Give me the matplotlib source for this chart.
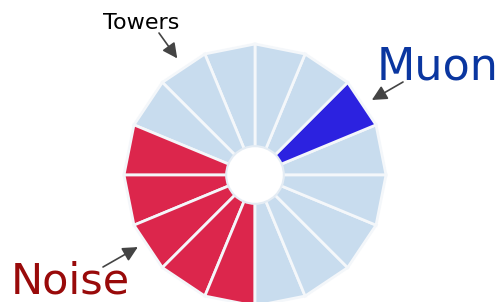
import numpy as np
import matplotlib
matplotlib.use("Agg")
import matplotlib.pyplot as plt
from matplotlib.patches import Circle

# Data
n_towers = 16
tower_values = [1] * n_towers
tower_types = ["Tower", "Muon", "Tower", "Tower", "Tower", "Tower", "Tower",
               "Noise", "Noise", "Noise", "Noise", "Noise",
               "Tower", "Tower", "Tower", "Tower"]
type_colors = {"Tower": "#c8dcee", "Muon": "#2c22e0", "Noise": "#dc264c"}
hole_radius = 0.22

fig = plt.figure(figsize=(4.99, 3.02), dpi=100)
W, H = 499, 302
cx, cy, R = 255, 175, 131
ax = fig.add_axes([(cx - R) / W, (H - cy - R) / H, 2 * R / W, 2 * R / H],
                  projection="polar")

width = 2 * np.pi / n_towers
for i, (v, t) in enumerate(zip(tower_values, tower_types)):
    t0, t1 = i * width, (i + 1) * width
    ax.fill([t0, t1, t0], [v, v, 0], facecolor=type_colors[t],
            edgecolor="#f4f7fa", linewidth=2, clip_on=False)

ax.set_ylim(0, max(tower_values))
ax.set_axis_off()

hole = Circle((0.5, 0.5), hole_radius / 2, transform=ax.transAxes,
              facecolor="white", edgecolor="#e4ecf4", linewidth=1.5, zorder=5)
ax.add_patch(hole)

# Labels
fig.text(103 / W, 1 - 29 / H, "Towers", fontsize=16, color="black",
         ha="left", va="baseline")
fig.text(377 / W, 1 - 80 / H, "Muon", fontsize=32, color="#0a36a0",
         ha="left", va="baseline")
fig.text(11 / W, 1 - 293 / H, "Noise", fontsize=31, color="#990a0a",
         ha="left", va="baseline")

arrow = dict(arrowstyle="-|>,head_length=0.6,head_width=0.3", color="#444444",
             lw=1.2, mutation_scale=15, shrinkA=0, shrinkB=0)
ax.annotate("", xy=(np.deg2rad(123.7), 1.07), xycoords="data",
            xytext=(159, H - 33), textcoords="figure pixels",
            arrowprops=arrow, annotation_clip=False)
ax.annotate("", xy=(np.deg2rad(32.7), 1.06), xycoords="data",
            xytext=(403, H - 82), textcoords="figure pixels",
            arrowprops=arrow, annotation_clip=False)
ax.annotate("", xy=(np.deg2rad(211.6), 1.05), xycoords="data",
            xytext=(103, H - 267), textcoords="figure pixels",
            arrowprops=arrow, annotation_clip=False)

fig.savefig("out.png", dpi=100)
